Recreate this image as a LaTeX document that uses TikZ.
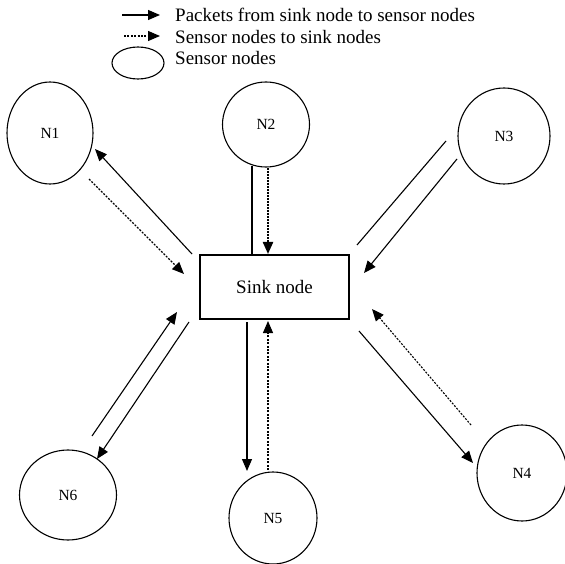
\documentclass[tikz,border=0pt]{standalone}
\usepackage{fontspec}
\setmainfont{Liberation Serif}
\usetikzlibrary{arrows.meta,shapes.geometric}
\begin{document}
\begin{tikzpicture}[x=1pt,y=-1pt,
  link/.style={line width=1.1pt},
  tip/.style={-{Triangle[length=12pt,width=10pt]}},
  dotlink/.style={line width=1.1pt, dash pattern=on 2pt off 1.4pt},
  sensor/.style={draw, line width=1.1pt, ellipse, inner sep=0pt,
    font=\fontsize{15.5}{18}\selectfont},
  sink/.style={draw, line width=1.1pt, rectangle, inner sep=0pt,
    minimum width=149pt, minimum height=64pt,
    font=\fontsize{19}{22}\selectfont},
  legendtext/.style={anchor=base west, inner sep=0pt,
    font=\fontsize{19}{22}\selectfont}]
\useasboundingbox (0,0) rectangle (565,564);

% legend
\coordinate (ls1) at (122,15);  \coordinate (le1) at (160,15);
\coordinate (ls2) at (124,36);  \coordinate (le2) at (160,36);
\draw[link,tip] (ls1) -- (le1);
\draw[dotlink,tip] (ls2) -- (le2);
\node[sensor, minimum width=52pt, minimum height=32pt] (legsensor) at (138,63) {};
\node[legendtext] (lt1) at (175,22) {Packets from sink node to sensor nodes};
\node[legendtext] (lt2) at (175,43.5) {Sensor nodes to sink nodes};
\node[legendtext] (lt3) at (175,65) {Sensor nodes};

% sink and sensor nodes
\node[sink] (sink) at (274.5,287) {Sink node};
\node[sensor, minimum width=86pt, minimum height=102pt] (N1) at (50,133) {N1};
\node[sensor, minimum width=87pt, minimum height=85pt] (N2) at (266,124.5) {N2};
\node[sensor, minimum width=92pt, minimum height=96pt] (N3) at (504,136) {N3};
\node[sensor, minimum width=90pt, minimum height=96pt] (N4) at (522,473) {N4};
\node[sensor, minimum width=88pt, minimum height=92pt] (N5) at (273,518) {N5};
\node[sensor, minimum width=97pt, minimum height=90pt] (N6) at (68,495) {N6};

% link end points
\coordinate (a1s) at (192,254); \coordinate (a1e) at (95,149);
\coordinate (b1s) at (89,179);  \coordinate (b1e) at (184,274);
\coordinate (a2s) at (252,166); \coordinate (a2e) at (252,255);
\coordinate (b2s) at (268,168); \coordinate (b2e) at (268,254);
\coordinate (a3s) at (446,141); \coordinate (a3e) at (357,245);
\coordinate (b3s) at (457,159); \coordinate (b3e) at (364,273);
\coordinate (b4s) at (471,425); \coordinate (b4e) at (372,309);
\coordinate (a4s) at (359,331); \coordinate (a4e) at (473,463);
\coordinate (a5s) at (247,322); \coordinate (a5e) at (247,471);
\coordinate (b5s) at (268,470); \coordinate (b5e) at (268,321);
\coordinate (a6s) at (92,436);  \coordinate (a6e) at (177,312);
\coordinate (b6s) at (189,322); \coordinate (b6e) at (97,459);

% N1
\draw[link,tip] (a1s) -- (a1e);
\draw[dotlink,tip] (b1s) -- (b1e);
% N2
\draw[link] (a2s) -- (a2e);
\draw[dotlink,line width=2.2pt,dash pattern=on 2pt off 1pt,tip] (b2s) -- (b2e);
% N3
\draw[link] (a3s) -- (a3e);
\draw[link,tip] (b3s) -- (b3e);
% N4
\draw[dotlink,tip] (b4s) -- (b4e);
\draw[link,tip] (a4s) -- (a4e);
% N5
\draw[link,tip] (a5s) -- (a5e);
\draw[dotlink,tip] (b5s) -- (b5e);
% N6
\draw[link,tip] (a6s) -- (a6e);
\draw[link,tip] (b6s) -- (b6e);
\end{tikzpicture}
\end{document}
